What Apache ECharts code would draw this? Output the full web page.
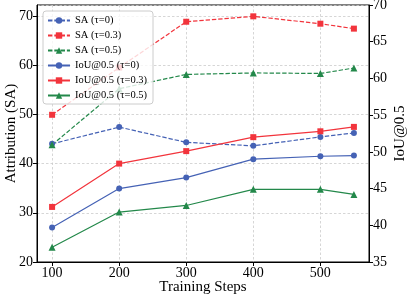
<!DOCTYPE html>
<html>
<head>
<meta charset="utf-8">
<script src="https://cdn.jsdelivr.net/npm/echarts@6/dist/echarts.min.js"></script>
<style>
html,body{margin:0;padding:0;background:#fff;}
#c{width:407px;height:297px;}
</style>
</head>
<body>
<div id="c"></div>
<script>
const steps = [100, 200, 300, 400, 500, 550];
const xTicks = [100, 200, 300, 400, 500];
const saTau0  = [44.0, 47.4, 44.3, 43.6, 45.4, 46.2];
const saTau03 = [49.9, 59.5, 68.8, 69.9, 68.4, 67.4];
const saTau05 = [43.8, 55.2, 58.1, 58.4, 58.3, 59.4];
const iouTau0  = [39.7, 45.0, 46.5, 49.0, 49.4, 49.5];
const iouTau03 = [42.5, 48.4, 50.1, 52.0, 52.8, 53.4];
const iouTau05 = [37.0, 41.8, 42.7, 44.9, 44.9, 44.2];
const names = ['SA (\u03c4=0)', 'SA (\u03c4=0.3)', 'SA (\u03c4=0.5)',
               'IoU@0.5 (\u03c4=0)', 'IoU@0.5 (\u03c4=0.3)', 'IoU@0.5 (\u03c4=0.5)'];

const BLUE = '#4562b5', RED = '#f2343c', GREEN = '#23884a';
const FONT = 'Liberation Serif';
const pair = a => a.map((v, i) => [steps[i], v]);

function mk(name, data, color, symbol, size, dashed, yIdx) {
  return {
    name, type: 'line', yAxisIndex: yIdx, data: pair(data),
    symbol, symbolSize: size, showSymbol: true,
    lineStyle: { color, width: 1.2, type: dashed ? [4.4, 1.9] : 'solid' },
    itemStyle: { color, borderWidth: 0 },
    z: dashed ? 2 : 3,
    emphasis: { disabled: true }, animation: false
  };
}

const chart = echarts.init(document.getElementById('c'), null, { renderer: 'canvas' });
chart.setOption({
  animation: false,
  textStyle: { fontFamily: FONT },
  grid: { left: 37, right: 38, top: 5, bottom: 35, containLabel: false, outerBoundsMode: 'none',
          show: true, borderColor: '#000', borderWidth: 1, backgroundColor: 'transparent' },
  legend: {
    orient: 'vertical', left: 43, top: 11,
    data: names,
    itemWidth: 22, itemHeight: 8, itemGap: 4,
    padding: [4, 6, 3, 4],
    backgroundColor: 'rgba(255,255,255,0.8)',
    borderColor: '#cccccc', borderWidth: 1, borderRadius: 3,
    textStyle: { fontFamily: FONT, fontSize: 10.5, color: '#000' },
    z: 10
  },
  xAxis: {
    type: 'value', min: 77.5, max: 572.5,
    name: 'Training Steps', nameLocation: 'middle', nameGap: 18, nameMoveOverlap: false,
    nameTextStyle: { fontFamily: FONT, fontSize: 15, color: '#000' },
    axisLine: { show: true, lineStyle: { color: '#000', width: 1 } },
    axisTick: { show: true, length: 4, customValues: xTicks, lineStyle: { color: '#000' } },
    axisLabel: { customValues: xTicks, fontFamily: FONT, fontSize: 14, color: '#000', margin: 4 },
    splitLine: { show: true, lineStyle: { color: '#cccccc', width: 0.8, type: [2.5, 2] } }
  },
  yAxis: [
    {
      type: 'value', min: 20, max: 72.2, interval: 10, position: 'left',
      name: 'Attribution (SA)', nameLocation: 'middle', nameRotate: 90, nameGap: 18, nameMoveOverlap: false,
      nameTextStyle: { fontFamily: FONT, fontSize: 15, color: '#000' },
      axisLine: { show: true, lineStyle: { color: '#000', width: 1 } },
      axisTick: { show: true, length: 4, lineStyle: { color: '#000' } },
      axisLabel: { showMaxLabel: false, fontFamily: FONT, fontSize: 14, color: '#000', margin: 4,
        formatter: v => (Math.abs(v % 10) < 1e-6 ? String(v) : '') },
      splitLine: { show: true, lineStyle: { color: '#cccccc', width: 0.8, type: [2.5, 2] } }
    },
    {
      type: 'value', min: 35, max: 70, interval: 5, position: 'right',
      name: 'IoU@0.5', nameLocation: 'middle', nameRotate: 90, nameGap: 24, nameMoveOverlap: false,
      nameTextStyle: { fontFamily: FONT, fontSize: 15, color: '#000' },
      axisLine: { show: true, lineStyle: { color: '#000', width: 1 } },
      axisTick: { show: true, length: 4, lineStyle: { color: '#000' } },
      axisLabel: { fontFamily: FONT, fontSize: 14, color: '#000', margin: 4 },
      splitLine: { show: false }
    }
  ],
  series: [
    mk(names[0], saTau0, BLUE, 'circle', 6, true, 0),
    mk(names[1], saTau03, RED, 'rect', 6, true, 0),
    mk(names[2], saTau05, GREEN, 'triangle', 7, true, 0),
    mk(names[3], iouTau0, BLUE, 'circle', 6, false, 1),
    mk(names[4], iouTau03, RED, 'rect', 6, false, 1),
    mk(names[5], iouTau05, GREEN, 'triangle', 7, false, 1)
  ]
});
</script>
</body>
</html>
